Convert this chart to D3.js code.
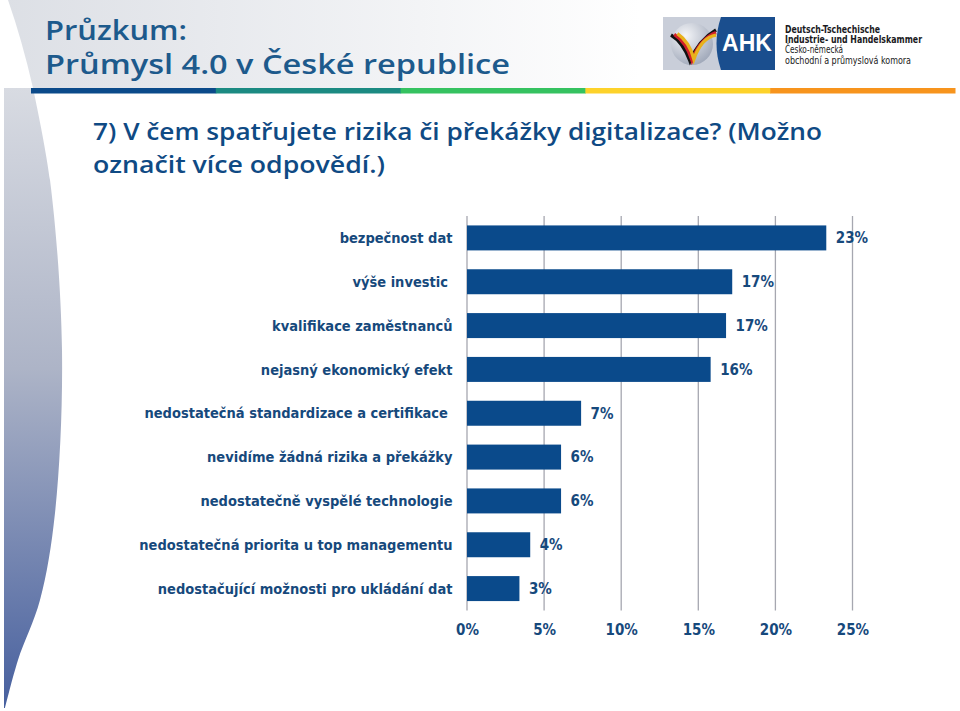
<!DOCTYPE html>
<html>
<head>
<meta charset="utf-8">
<script src="https://cdn.jsdelivr.net/npm/d3@7"></script>
<style>
  html, body { margin: 0; padding: 0; background: #ffffff; }
  svg { display: block; }
  text { white-space: pre; }
</style>
</head>
<body>
<svg id="chart" width="960" height="711"></svg>
<script>
// ---- data ----
const categories = [
  "bezpečnost dat",
  "výše investic ",
  "kvalifikace zaměstnanců",
  "nejasný ekonomický efekt",
  "nedostatečná standardizace a certifikace ",
  "nevidíme žádná rizika a překážky",
  "nedostatečně vyspělé technologie",
  "nedostatečná priorita u top managementu",
  "nedostačující možnosti pro ukládání dat"
];
const values = [23.3, 17.2, 16.8, 15.8, 7.4, 6.1, 6.1, 4.1, 3.4];
const tickValues = [0, 5, 10, 15, 20, 25];
const titleLines = ["Průzkum:", "Průmysl 4.0 v České republice"];
const questionLines = ["7) V čem spatřujete rizika či překážky digitalizace? (Možno", "označit více odpovědí.)"];
const logoLines = ["Deutsch-Tschechische", "Industrie- und Handelskammer", "Česko-německá", "obchodní a průmyslová komora"];
const stripeColors = ["#0b4a8a", "#1b8a82", "#35c260", "#fdd22a", "#f7941d"];

// ---- setup ----
const svg = d3.select("#chart");
const defs = svg.append("defs");
const FONT = "'DejaVu Sans Condensed', 'DejaVu Sans', sans-serif";
const HEAD_FONT = "'Open Sans', 'Noto Sans', sans-serif";
const TEXT_BLUE = "#16497c";

// background decoration
const gTop = defs.append("linearGradient").attr("id", "gTop")
  .attr("gradientUnits", "userSpaceOnUse")
  .attr("x1", 0).attr("x2", 640).attr("y1", 0).attr("y2", 0);
gTop.append("stop").attr("offset", 0).attr("stop-color", "#dcdfe5");
gTop.append("stop").attr("offset", 1).attr("stop-color", "#ffffff");
svg.append("path")
  .attr("d", "M8,0 L960,0 L960,88 L33,88 Q22,40 8,0 Z")
  .attr("fill", "url(#gTop)");

const gLeft = defs.append("linearGradient").attr("id", "gLeft")
  .attr("gradientUnits", "userSpaceOnUse")
  .attr("x1", 0).attr("x2", 0).attr("y1", 88).attr("y2", 711);
gLeft.append("stop").attr("offset", 0).attr("stop-color", "#d8dbe2");
gLeft.append("stop").attr("offset", 0.45).attr("stop-color", "#adb4c7");
gLeft.append("stop").attr("offset", 1).attr("stop-color", "#465f9e");
const edgePts = [[33, 88], [50, 180], [62, 350], [55, 513], [40, 600], [18, 660], [5, 708]];
const edgeLine = d3.line().curve(d3.curveCatmullRom.alpha(0.5));
svg.append("path")
  .attr("d", "M4,88 L" + edgeLine(edgePts).slice(1) + " L4,708 Z")
  .attr("fill", "url(#gLeft)");

// colored stripe under title
const stripeX = d3.scaleBand().domain(d3.range(stripeColors.length)).range([31, 955]);
svg.append("g").selectAll("rect").data(stripeColors).join("rect")
  .attr("x", (d, i) => stripeX(i)).attr("y", 88)
  .attr("width", stripeX.bandwidth() + 0.5).attr("height", 5.5)
  .attr("fill", d => d);

// title
const titleWidths = [142, 465];
svg.append("g").selectAll("text").data(titleLines).join("text")
  .attr("x", 45).attr("y", (d, i) => 39.5 + i * 34.5)
  .attr("font-family", HEAD_FONT).attr("font-weight", 600).attr("font-size", 27)
  .attr("textLength", (d, i) => titleWidths[i]).attr("lengthAdjust", "spacingAndGlyphs")
  .attr("fill", "#1d5a8c").text(d => d);

// question
const questionWidths = [729, 292];
svg.append("g").selectAll("text").data(questionLines).join("text")
  .attr("x", 93).attr("y", (d, i) => 140 + i * 32.5)
  .attr("font-family", HEAD_FONT).attr("font-size", 24).attr("font-weight", 600)
  .attr("textLength", (d, i) => questionWidths[i]).attr("lengthAdjust", "spacingAndGlyphs")
  .attr("fill", "#0f4a84").text(d => d);

// logo
const logo = svg.append("g");
const gCirc = defs.append("radialGradient").attr("id", "gCirc")
  .attr("cx", 0.35).attr("cy", 0.3).attr("r", 0.8);
gCirc.append("stop").attr("offset", 0).attr("stop-color", "#f4f5f8");
gCirc.append("stop").attr("offset", 1).attr("stop-color", "#9aa3b5");
logo.append("rect").attr("x", 663).attr("y", 17).attr("width", 60).attr("height", 53).attr("fill", "#c9ced9");
logo.append("circle").attr("cx", 692).attr("cy", 44).attr("r", 21).attr("fill", "url(#gCirc)");
logo.append("path").attr("d", "M721,17 L775,17 L775,70 L721,70 Q712,43.5 721,17 Z").attr("fill", "#1a4e8e");
[["#111111", 0], ["#d0202a", 3.2], ["#e8b21c", 6.4]].forEach(([c, o]) => {
  logo.append("path")
    .attr("d", `M${671 + o},${35 - o * 0.2} Q${683 + o},${42} ${690 + o * 0.6},${61 - o * 0.3} Q${699 + o * 0.4},${40 - o * 0.4} ${716},${30 + o * 0.8}`)
    .attr("fill", "none").attr("stroke", c).attr("stroke-width", 3.4).attr("stroke-linecap", "butt");
});
logo.append("text").attr("x", 747).attr("y", 51).attr("text-anchor", "middle")
  .attr("font-family", "'Liberation Sans', Arial, sans-serif").attr("font-weight", "bold")
  .attr("font-size", 23).attr("fill", "#ffffff").text("AHK");
const logoWidths = [95, 137, 58, 126];
logo.selectAll("text.l").data(logoLines).join("text").attr("class", "l")
  .attr("x", 785).attr("y", (d, i) => 33 + i * 10.2)
  .attr("font-family", FONT).attr("font-size", 10.5)
  .attr("font-weight", (d, i) => i < 2 ? "bold" : "normal")
  .attr("textLength", (d, i) => logoWidths[i]).attr("lengthAdjust", "spacingAndGlyphs")
  .attr("fill", "#1a1a22").text(d => d);

// ---- chart ----
const x = d3.scaleLinear().domain([0, 25]).range([467, 852.5]);
const y = d3.scaleBand().domain(categories).range([216, 610.5]).paddingInner(0.43).paddingOuter(0.215);

const grid = svg.append("g");
grid.selectAll("line").data(tickValues).join("line")
  .attr("x1", d => x(d)).attr("x2", d => x(d))
  .attr("y1", 216).attr("y2", 610.5)
  .attr("stroke", "#a6a7b0").attr("stroke-width", 1.3);

svg.append("g").selectAll("rect").data(values).join("rect")
  .attr("x", x(0)).attr("y", (d, i) => y(categories[i]))
  .attr("width", d => x(d) - x(0)).attr("height", y.bandwidth())
  .attr("fill", "#0a4a8b");

// value labels
svg.append("g").selectAll("text").data(values).join("text")
  .attr("x", d => x(d) + 9.5).attr("y", (d, i) => y(categories[i]) + y.bandwidth() / 2)
  .attr("dy", "0.36em")
  .attr("font-family", FONT).attr("font-weight", "bold").attr("font-size", 15)
  .attr("fill", TEXT_BLUE).text(d => Math.round(d) + "%");

// category axis labels
svg.append("g").selectAll("text").data(categories).join("text")
  .attr("x", 452.5).attr("y", d => y(d) + y.bandwidth() / 2)
  .attr("dy", "0.36em").attr("text-anchor", "end")
  .attr("font-family", FONT).attr("font-weight", "bold").attr("font-size", 14.5)
  .attr("fill", TEXT_BLUE).text(d => d);

// x axis
const xAxis = svg.append("g").attr("transform", "translate(0,612)")
  .call(d3.axisBottom(x).tickValues(tickValues).tickFormat(d => d + "%").tickSize(0).tickPadding(12));
xAxis.select(".domain").remove();
xAxis.selectAll("text")
  .attr("font-family", FONT).attr("font-weight", "bold").attr("font-size", 15)
  .attr("fill", TEXT_BLUE);
</script>
</body>
</html>
